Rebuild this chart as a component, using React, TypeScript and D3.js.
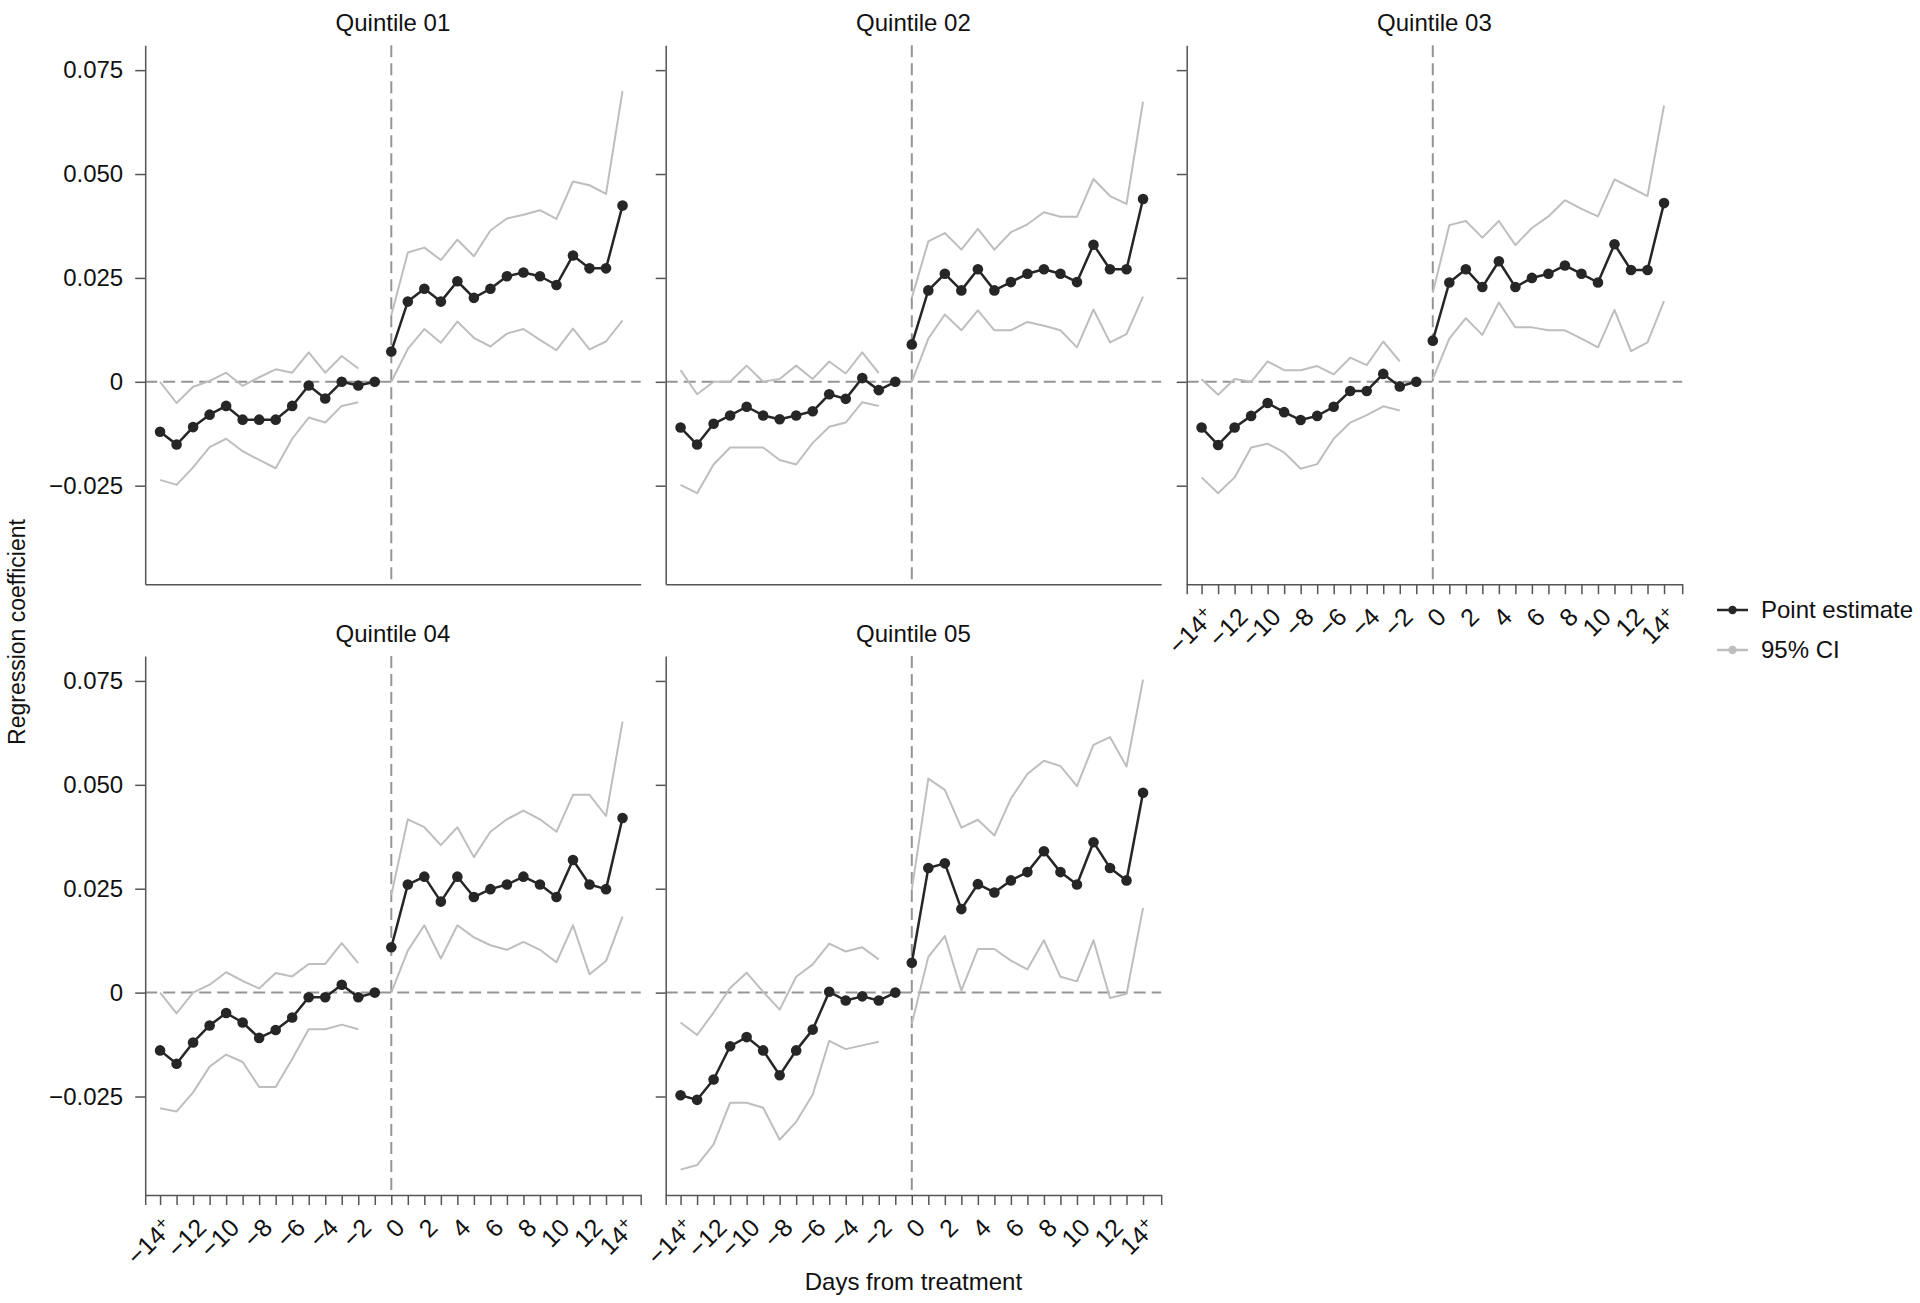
import React, { useEffect, useRef } from "react";
import * as d3 from "d3";

const days = [-14, -13, -12, -11, -10, -9, -8, -7, -6, -5, -4, -3, -2, -1, 0, 1, 2, 3, 4, 5, 6, 7, 8, 9, 10, 11, 12, 13, 14];
const titles = ["Quintile 01", "Quintile 02", "Quintile 03", "Quintile 04", "Quintile 05"];

const q1Estimate = [-0.0120, -0.0151, -0.0109, -0.0079, -0.0058, -0.0091, -0.0091, -0.0091, -0.0058, -0.0009, -0.0040, 0.0000, -0.0009, 0.0000, 0.0073, 0.0193, 0.0224, 0.0193, 0.0242, 0.0202, 0.0224, 0.0254, 0.0263, 0.0254, 0.0233, 0.0304, 0.0273, 0.0273, 0.0424];
const q1Upper = [0.0000, -0.0051, -0.0012, 0.0002, 0.0022, -0.0010, 0.0011, 0.0030, 0.0022, 0.0071, 0.0022, 0.0062, 0.0032, null, 0.0160, 0.0311, 0.0323, 0.0293, 0.0342, 0.0302, 0.0364, 0.0393, 0.0402, 0.0413, 0.0392, 0.0482, 0.0473, 0.0452, 0.0700];
const q1Lower = [-0.0236, -0.0248, -0.0206, -0.0157, -0.0137, -0.0167, -0.0188, -0.0208, -0.0137, -0.0086, -0.0098, -0.0058, -0.0049, null, 0.0000, 0.0079, 0.0127, 0.0094, 0.0145, 0.0106, 0.0085, 0.0116, 0.0127, 0.0101, 0.0076, 0.0128, 0.0078, 0.0097, 0.0148];

const q2Estimate = [-0.0110, -0.0151, -0.0101, -0.0081, -0.0060, -0.0081, -0.0090, -0.0081, -0.0071, -0.0030, -0.0041, 0.0009, -0.0020, 0.0000, 0.0090, 0.0220, 0.0260, 0.0220, 0.0271, 0.0220, 0.0240, 0.0260, 0.0271, 0.0260, 0.0240, 0.0330, 0.0271, 0.0271, 0.0440];
const q2Upper = [0.0028, -0.0030, 0.0000, 0.0000, 0.0039, 0.0000, 0.0007, 0.0039, 0.0007, 0.0049, 0.0020, 0.0071, 0.0021, null, 0.0202, 0.0338, 0.0358, 0.0318, 0.0368, 0.0318, 0.0360, 0.0379, 0.0408, 0.0397, 0.0397, 0.0488, 0.0447, 0.0428, 0.0674];
const q2Lower = [-0.0248, -0.0268, -0.0199, -0.0158, -0.0158, -0.0158, -0.0188, -0.0199, -0.0147, -0.0108, -0.0098, -0.0049, -0.0058, null, 0.0000, 0.0104, 0.0162, 0.0124, 0.0172, 0.0124, 0.0124, 0.0144, 0.0135, 0.0124, 0.0083, 0.0174, 0.0095, 0.0115, 0.0205];

const q3Estimate = [-0.0110, -0.0152, -0.0110, -0.0082, -0.0051, -0.0073, -0.0092, -0.0082, -0.0060, -0.0022, -0.0022, 0.0019, -0.0011, 0.0000, 0.0099, 0.0239, 0.0271, 0.0228, 0.0290, 0.0228, 0.0250, 0.0260, 0.0280, 0.0260, 0.0239, 0.0331, 0.0269, 0.0269, 0.0430];
const q3Upper = [0.0006, -0.0031, 0.0007, 0.0000, 0.0049, 0.0028, 0.0028, 0.0038, 0.0018, 0.0058, 0.0040, 0.0097, 0.0049, null, 0.0214, 0.0377, 0.0387, 0.0347, 0.0387, 0.0329, 0.0370, 0.0398, 0.0437, 0.0416, 0.0398, 0.0487, 0.0467, 0.0447, 0.0665];
const q3Lower = [-0.0230, -0.0268, -0.0230, -0.0158, -0.0149, -0.0170, -0.0209, -0.0198, -0.0137, -0.0098, -0.0080, -0.0059, -0.0069, null, 0.0007, 0.0104, 0.0153, 0.0113, 0.0191, 0.0131, 0.0131, 0.0124, 0.0124, 0.0104, 0.0083, 0.0173, 0.0074, 0.0095, 0.0194];

const q4Estimate = [-0.0139, -0.0171, -0.0120, -0.0079, -0.0049, -0.0072, -0.0109, -0.0090, -0.0060, -0.0011, -0.0011, 0.0019, -0.0011, 0.0000, 0.0109, 0.0260, 0.0279, 0.0219, 0.0279, 0.0230, 0.0249, 0.0260, 0.0279, 0.0260, 0.0230, 0.0319, 0.0260, 0.0249, 0.0420];
const q4Upper = [0.0000, -0.0050, 0.0000, 0.0019, 0.0049, 0.0028, 0.0010, 0.0047, 0.0039, 0.0069, 0.0069, 0.0119, 0.0071, null, 0.0235, 0.0417, 0.0398, 0.0355, 0.0398, 0.0326, 0.0387, 0.0417, 0.0438, 0.0417, 0.0387, 0.0476, 0.0476, 0.0425, 0.0652];
const q4Lower = [-0.0278, -0.0286, -0.0240, -0.0178, -0.0149, -0.0167, -0.0227, -0.0227, -0.0160, -0.0088, -0.0088, -0.0077, -0.0088, null, 0.0000, 0.0101, 0.0162, 0.0082, 0.0162, 0.0133, 0.0114, 0.0103, 0.0122, 0.0103, 0.0073, 0.0162, 0.0044, 0.0076, 0.0183];

const q5Estimate = [-0.0247, -0.0258, -0.0209, -0.0129, -0.0107, -0.0139, -0.0199, -0.0139, -0.0089, 0.0002, -0.0019, -0.0009, -0.0019, 0.0000, 0.0072, 0.0300, 0.0311, 0.0201, 0.0261, 0.0241, 0.0270, 0.0290, 0.0340, 0.0290, 0.0260, 0.0362, 0.0300, 0.0270, 0.0481];
const q5Upper = [-0.0072, -0.0102, -0.0048, 0.0011, 0.0048, 0.0002, -0.0041, 0.0038, 0.0068, 0.0118, 0.0099, 0.0109, 0.0080, null, 0.0247, 0.0515, 0.0488, 0.0397, 0.0416, 0.0378, 0.0467, 0.0526, 0.0558, 0.0545, 0.0497, 0.0596, 0.0615, 0.0544, 0.0753];
const q5Lower = [-0.0426, -0.0415, -0.0365, -0.0265, -0.0265, -0.0277, -0.0354, -0.0311, -0.0245, -0.0116, -0.0136, -0.0127, -0.0118, null, -0.0075, 0.0086, 0.0136, 0.0005, 0.0105, 0.0105, 0.0077, 0.0056, 0.0126, 0.0038, 0.0027, 0.0126, -0.0013, -0.0003, 0.0204];

const yTickValues = [-0.025, 0, 0.025, 0.05, 0.075];
const yTickLabels = ["\u22120.025", "0", "0.025", "0.050", "0.075"];
const xLabelledDays = [-14, -12, -10, -8, -6, -4, -2, 0, 2, 4, 6, 8, 10, 12, 14];
const xTickLabels = ["\u221214+", "\u221212", "\u221210", "\u22128", "\u22126", "\u22124", "\u22122", "0", "2", "4", "6", "8", "10", "12", "14+"];
const legendLabels = ["Point estimate", "95% CI"];
const xTitle = "Days from treatment";
const yTitle = "Regression coefficient";

const FONT = "'Liberation Sans', Arial, Helvetica, sans-serif";
const EST_COLOR = "#262626";
const CI_COLOR = "#bebebe";
const AXIS_COLOR = "#555";
const REF_COLOR = "#959595";

export default function App() {
  const ref = useRef<SVGSVGElement>(null);

  useEffect(() => {
    const svg = d3.select(ref.current);
    svg.selectAll("*").remove();

    const W = 495.5;
    const H = 539;
    const lefts = [145.2, 665.7, 1186.7];
    const tops = [45.2, 656];

    const panels = [
      { title: titles[0], est: q1Estimate, hi: q1Upper, lo: q1Lower, col: 0, row: 0, xl: false, yl: true },
      { title: titles[1], est: q2Estimate, hi: q2Upper, lo: q2Lower, col: 1, row: 0, xl: false, yl: false },
      { title: titles[2], est: q3Estimate, hi: q3Upper, lo: q3Lower, col: 2, row: 0, xl: true, yl: false },
      { title: titles[3], est: q4Estimate, hi: q4Upper, lo: q4Lower, col: 0, row: 1, xl: true, yl: true },
      { title: titles[4], est: q5Estimate, hi: q5Upper, lo: q5Lower, col: 1, row: 1, xl: true, yl: false },
    ];

    const x = d3.scaleLinear().domain([-14.9, 15.1]).range([0, W]);
    const y = d3.scaleLinear().domain([-0.0487, 0.081]).range([H, 0]);

    type P = { d: number; v: number | null };
    const line = d3
      .line<P>()
      .defined((p) => p.v !== null)
      .x((p) => x(p.d))
      .y((p) => y(p.v as number));

    panels.forEach((p) => {
      const g = svg.append("g").attr("transform", `translate(${lefts[p.col]},${tops[p.row]})`);

      g.append("text")
        .attr("x", W / 2)
        .attr("y", -14)
        .attr("text-anchor", "middle")
        .attr("font-family", FONT)
        .attr("font-size", 24)
        .attr("fill", "#111")
        .text(p.title);

      g.append("line")
        .attr("x1", 0).attr("x2", W)
        .attr("y1", y(0)).attr("y2", y(0))
        .attr("stroke", REF_COLOR).attr("stroke-width", 2).attr("stroke-dasharray", "12,6");
      g.append("line")
        .attr("x1", x(0)).attr("x2", x(0))
        .attr("y1", 0).attr("y2", H)
        .attr("stroke", REF_COLOR).attr("stroke-width", 2).attr("stroke-dasharray", "12,6");

      const pts = (arr: (number | null)[]) => days.map((d, i) => ({ d, v: arr[i] }));
      const estPts = pts(p.est);
      const pre = estPts.filter((q) => q.d < 0);
      const post = estPts.filter((q) => q.d >= 0);

      [p.hi, p.lo].forEach((arr) => {
        g.append("path")
          .attr("d", line(pts(arr)) || "")
          .attr("fill", "none")
          .attr("stroke", CI_COLOR)
          .attr("stroke-width", 2)
          .attr("stroke-linejoin", "round");
      });

      [pre, post].forEach((seg) => {
        g.append("path")
          .attr("d", line(seg) || "")
          .attr("fill", "none")
          .attr("stroke", EST_COLOR)
          .attr("stroke-width", 2.5)
          .attr("stroke-linejoin", "round");
      });

      g.selectAll("circle.pt")
        .data(estPts)
        .enter()
        .append("circle")
        .attr("class", "pt")
        .attr("cx", (q) => x(q.d))
        .attr("cy", (q) => y(q.v as number))
        .attr("r", 5.3)
        .attr("fill", EST_COLOR);

      const yAxis = d3
        .axisLeft(y)
        .tickValues(yTickValues)
        .tickSize(10)
        .tickSizeOuter(0)
        .tickPadding(12)
        .tickFormat((_, i) => (p.yl ? yTickLabels[i] : ""));
      const ya = g.append("g").call(yAxis);
      ya.select(".domain").attr("stroke", AXIS_COLOR).attr("stroke-width", 1.5);
      ya.selectAll(".tick line").attr("stroke", AXIS_COLOR).attr("stroke-width", 1.5);
      ya.selectAll(".tick text").attr("font-family", FONT).attr("font-size", 24).attr("fill", "#111");

      const xAxis = d3
        .axisBottom(x)
        .tickValues(days)
        .tickSize(p.xl ? 10 : 0)
        .tickSizeOuter(p.xl ? 10 : 0)
        .tickFormat(() => "");
      const xa = g.append("g").attr("transform", `translate(0,${H})`).call(xAxis);
      xa.select(".domain").attr("stroke", AXIS_COLOR).attr("stroke-width", 1.5);
      xa.selectAll(".tick line").attr("stroke", AXIS_COLOR).attr("stroke-width", 1.5);
      xa.selectAll(".tick text").remove();

      if (p.xl) {
        const lab = g.append("g").attr("transform", `translate(0,${H})`);
        xLabelledDays.forEach((d, i) => {
          const label = xTickLabels[i];
          const t = lab
            .append("text")
            .attr("transform", `translate(${x(d) + 8.5},28) rotate(-45)`)
            .attr("text-anchor", "end")
            .attr("dy", "0.35em")
            .attr("font-family", FONT)
            .attr("font-size", 25)
            .attr("fill", "#111");
          if (label.endsWith("+")) {
            t.append("tspan").text(label.slice(0, -1));
            t.append("tspan").attr("font-size", 18).attr("dy", "-0.45em").text("+");
          } else {
            t.text(label);
          }
        });
      }
    });

    svg.append("text")
      .attr("x", lefts[1] + W / 2)
      .attr("y", 1290)
      .attr("text-anchor", "middle")
      .attr("font-family", FONT)
      .attr("font-size", 24)
      .attr("fill", "#111")
      .text(xTitle);

    svg.append("text")
      .attr("transform", `translate(25,632) rotate(-90)`)
      .attr("text-anchor", "middle")
      .attr("font-family", FONT)
      .attr("font-size", 23)
      .attr("fill", "#111")
      .text(yTitle);

    const legendColors = [EST_COLOR, CI_COLOR];
    const legendY = [610, 650];
    legendLabels.forEach((lbl, i) => {
      const lg = svg.append("g").attr("transform", `translate(1717,${legendY[i]})`);
      lg.append("line").attr("x1", 0).attr("x2", 31).attr("y1", 0).attr("y2", 0)
        .attr("stroke", legendColors[i]).attr("stroke-width", 2.5);
      lg.append("circle").attr("cx", 15.5).attr("cy", 0).attr("r", 4.2).attr("fill", legendColors[i]);
      lg.append("text").attr("x", 44).attr("y", 0).attr("dy", "0.35em")
        .attr("font-family", FONT).attr("font-size", 24).attr("fill", "#111").text(lbl);
    });
  }, []);

  return (
    <svg
      ref={ref}
      width={1920}
      height={1303}
      style={{ position: "absolute", left: 0, top: 0, background: "#fff" }}
    />
  );
}
